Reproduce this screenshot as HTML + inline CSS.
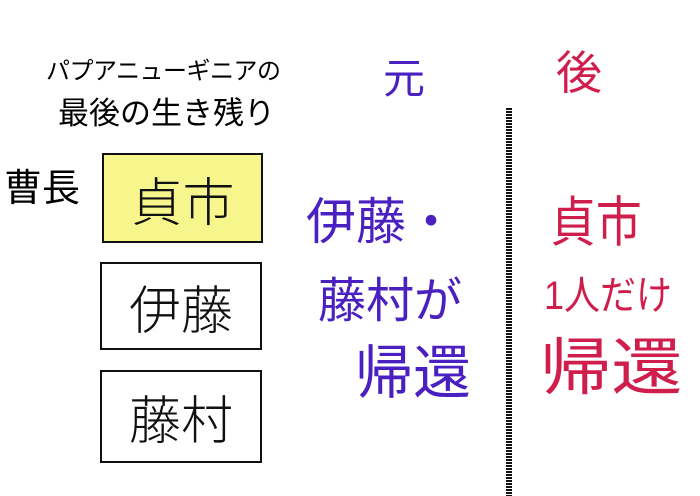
<!DOCTYPE html>
<html><head><meta charset="utf-8"><style>
body{margin:0;width:700px;height:496px;background:#fff;position:relative;overflow:hidden;font-family:"Liberation Sans","Noto Sans CJK JP",sans-serif;}
.t{position:absolute;white-space:nowrap;line-height:1;}
.box{position:absolute;border:2px solid #111;box-sizing:border-box;display:flex;align-items:center;justify-content:center;font-size:52px;color:#111;font-weight:300;}
.p{color:#4a20c0;}
.r{color:#d01e4c;}
</style></head><body>
<div class="t" style="left:46px;top:60px;font-size:24px;letter-spacing:-0.5px;">パプアニューギニアの</div>
<div class="t" style="left:58px;top:98px;font-size:31px;letter-spacing:0px;">最後の生き残り</div>
<div class="t" style="left:4px;top:170px;font-size:38px;">曹長</div>
<div class="box" style="left:102px;top:153px;width:161px;height:90px;background:#f6f68c;">貞市</div>
<div class="box" style="left:100px;top:262px;width:162px;height:88px;">伊藤</div>
<div class="box" style="left:100px;top:370px;width:162px;height:93px;">藤村</div>
<div class="t p" style="left:383px;top:58px;font-size:42px;">元</div>
<div class="t r" style="left:556px;top:50px;font-size:46px;">後</div>
<div style="position:absolute;left:506px;top:108px;width:6px;height:388px;background:repeating-linear-gradient(#111 0 2px,#fff 2px 3px);"></div>
<div class="t p" style="left:306px;top:197px;font-size:50px;">伊藤・</div>
<div class="t p" style="left:318px;top:278px;font-size:48px;">藤村が</div>
<div class="t p" style="left:355px;top:345px;font-size:58px;">帰還</div>
<div class="t r" style="left:550px;top:196px;font-size:54px;transform-origin:0 0;transform:scaleX(0.85);">貞市</div>
<div class="t r" style="left:544px;top:276px;font-size:40px;transform-origin:0 0;transform:scaleX(0.9);">1人だけ</div>
<div class="t r" style="left:540px;top:338px;font-size:62px;transform-origin:0 0;transform:scaleX(1.15);">帰還</div>
</body></html>
